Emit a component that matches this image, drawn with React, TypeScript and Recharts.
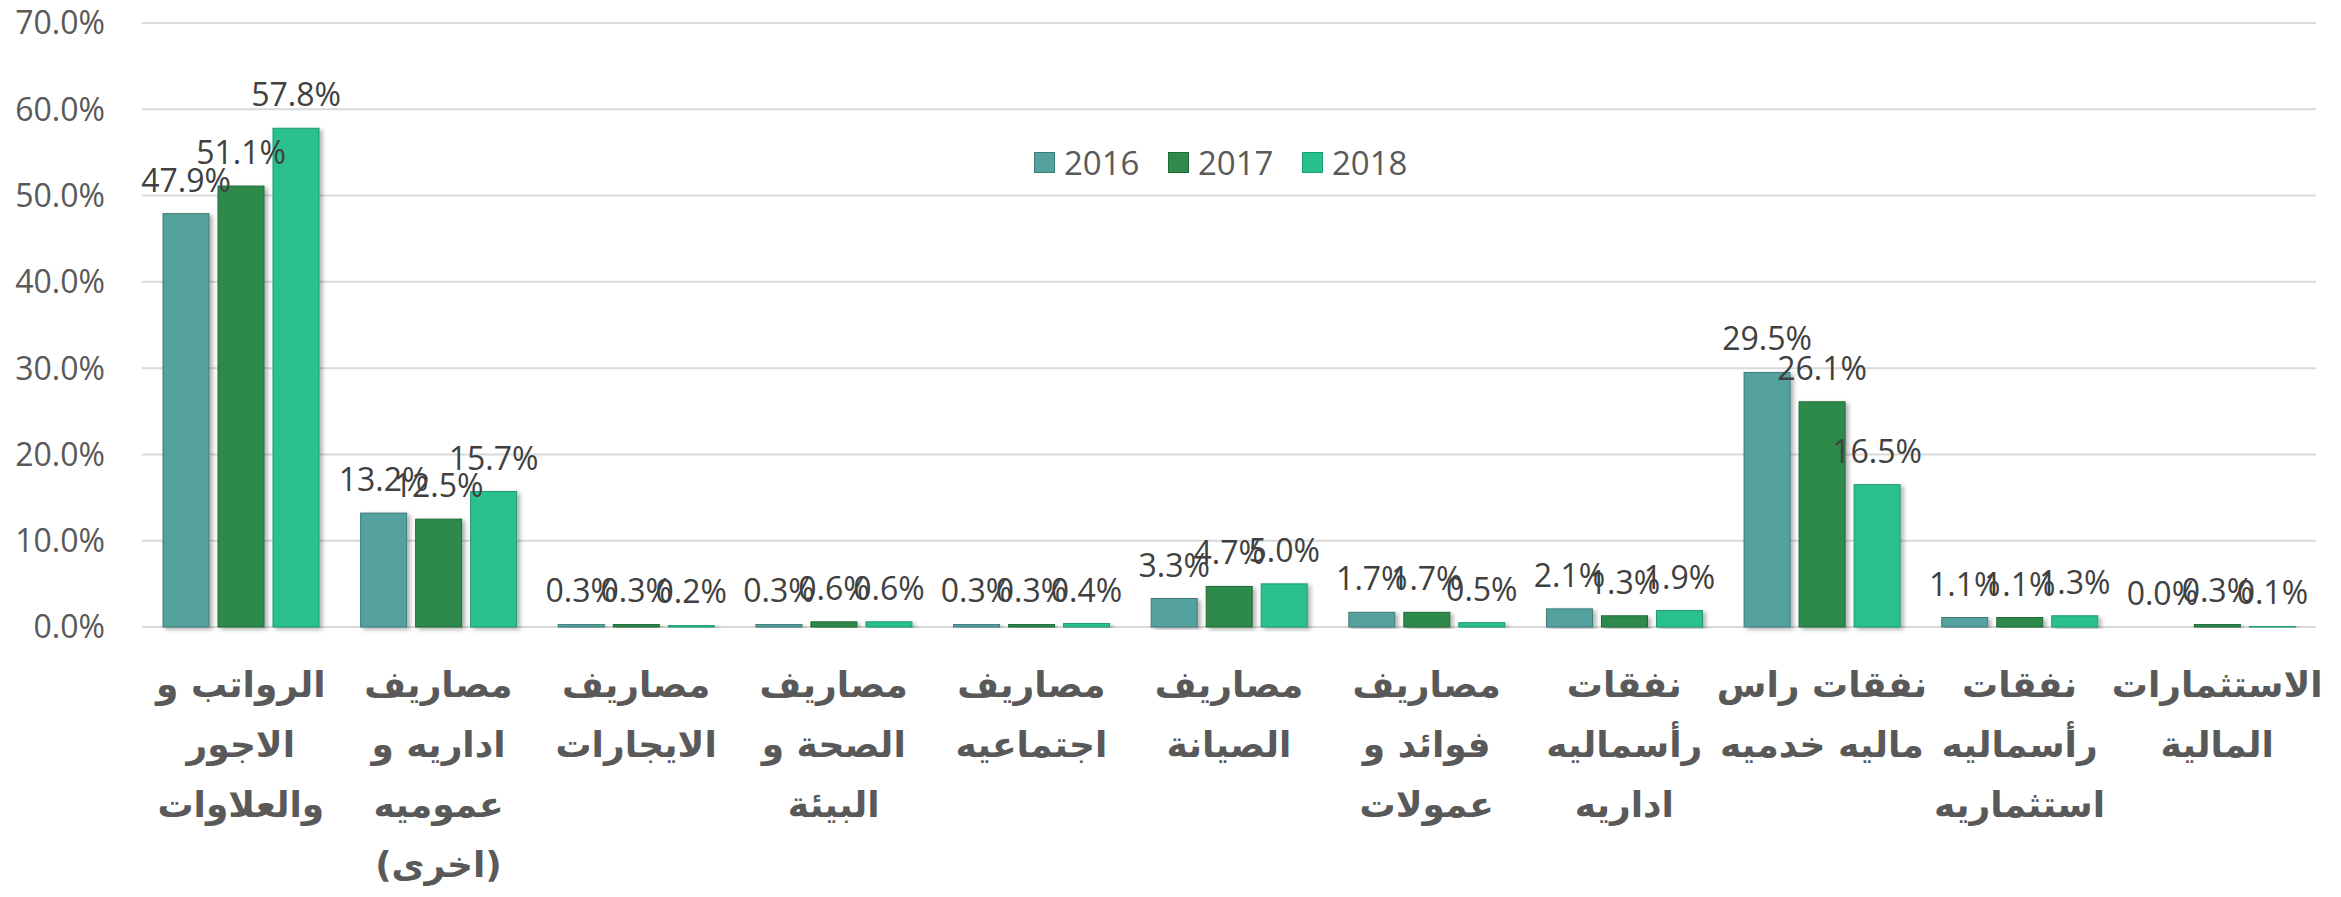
import { Bar, BarChart, CartesianGrid, LabelList, Legend, XAxis, YAxis } from "recharts";

// category labels, line breaks as in the original axis
const CATEGORIES = [
  "الرواتب و\nالاجور\nوالعلاوات",
  "مصاريف\nاداريه و\nعموميه\n(اخرى)",
  "مصاريف\nالايجارات",
  "مصاريف\nالصحة و\nالبيئة",
  "مصاريف\nاجتماعيه",
  "مصاريف\nالصيانة",
  "مصاريف\nفوائد و\nعمولات",
  "نفقات\nرأسماليه\nاداريه",
  "نفقات راس\nماليه خدميه",
  "نفقات\nرأسماليه\nاستثماريه",
  "الاستثمارات\nالمالية",
];

const VALUES_2016 = [47.9, 13.2, 0.3, 0.3, 0.3, 3.3, 1.7, 2.1, 29.5, 1.1, 0.0];
const VALUES_2017 = [51.1, 12.5, 0.3, 0.6, 0.3, 4.7, 1.7, 1.3, 26.1, 1.1, 0.3];
const VALUES_2018 = [57.8, 15.7, 0.2, 0.6, 0.4, 5.0, 0.5, 1.9, 16.5, 1.3, 0.1];

const Y_TICKS = [0, 10, 20, 30, 40, 50, 60, 70];

const SERIES = [
  { key: "y2016", name: "2016", fill: "#55a19d", stroke: "#3e7c78" },
  { key: "y2017", name: "2017", fill: "#2f8a4b", stroke: "#1f6a36" },
  { key: "y2018", name: "2018", fill: "#29c08f", stroke: "#1c9a72" },
];

const chartData = CATEGORIES.map((name, i) => ({
  name,
  y2016: VALUES_2016[i],
  y2017: VALUES_2017[i],
  y2018: VALUES_2018[i],
}));

const pct = (v: any) => `${Number(v).toFixed(1)}%`;

const CategoryTick = ({ x, y, payload }: any) => {
  const lines = String(payload.value).split("\n");
  return (
    <text
      x={x}
      y={y}
      textAnchor="middle"
      fill="#595959"
      fontFamily="DejaVu Sans"
      fontWeight="bold"
      fontSize={36}
    >
      {lines.map((line, i) => (
        <tspan key={i} x={x} dy={i === 0 ? 62 : 60}>
          {line}
        </tspan>
      ))}
    </text>
  );
};

const ShadowBar = (props: any) => {
  const { x, y, width, height, fill, stroke } = props;
  if (!height || height <= 0) return <g />;
  return (
    <rect
      x={x}
      y={y}
      width={width}
      height={height}
      fill={fill}
      stroke={stroke}
      strokeWidth={1}
      filter="url(#barShadow)"
    />
  );
};

const YearLegend = () => (
  <div style={{ display: "flex", alignItems: "center" }}>
    {SERIES.map((s) => (
      <div key={s.key} style={{ display: "flex", alignItems: "center", width: 134 }}>
        <div
          style={{
            width: 21,
            height: 21,
            background: s.fill,
            border: `1px solid ${s.stroke}`,
            boxSizing: "border-box",
            marginRight: 9,
          }}
        />
        <span
          style={{
            fontFamily: "Open Sans",
            fontSize: 33,
            lineHeight: "33px",
            color: "#595959",
          }}
        >
          {s.name}
        </span>
      </div>
    ))}
  </div>
);

const App = () => {
  return (
    <div style={{ position: "absolute", left: 0, top: 0, width: 2341, height: 897, background: "#fff" }}>
      <BarChart
        width={2341}
        height={897}
        data={chartData}
        margin={{ top: 23, right: 25, bottom: 0, left: 0 }}
        barCategoryGap={21}
        barGap={9}
      >
        <defs>
          <filter id="barShadow" x="-20%" y="-5%" width="150%" height="115%">
            <feDropShadow dx="3" dy="2" stdDeviation="2" floodColor="#000" floodOpacity="0.3" />
          </filter>
        </defs>
        <CartesianGrid vertical={false} stroke="#d9d9d9" strokeWidth={2} />
        <XAxis
          dataKey="name"
          height={270}
          axisLine={false}
          tickLine={false}
          interval={0}
          tick={<CategoryTick />}
        />
        <YAxis
          width={142}
          domain={[0, 70]}
          ticks={Y_TICKS}
          tickFormatter={pct}
          axisLine={false}
          tickLine={false}
          tickSize={0}
          tickMargin={37}
          tick={{ fill: "#595959", fontSize: 32, fontFamily: "Open Sans" }}
        />
        <Legend
          verticalAlign="middle"
          layout="horizontal"
          content={() => <YearLegend />}
          wrapperStyle={{ position: "absolute", top: 146, left: 1034, width: 420 }}
        />
        {SERIES.map((s) => (
          <Bar
            key={s.key}
            dataKey={s.key}
            name={s.name}
            fill={s.fill}
            stroke={s.stroke}
            shape={<ShadowBar />}
            isAnimationActive={false}
          >
            <LabelList
              dataKey={s.key}
              position="top"
              offset={22}
              formatter={pct}
              fill="#404040"
              fontSize={32}
              fontFamily="Open Sans"
            />
          </Bar>
        ))}
      </BarChart>
    </div>
  );
};

export default App;
